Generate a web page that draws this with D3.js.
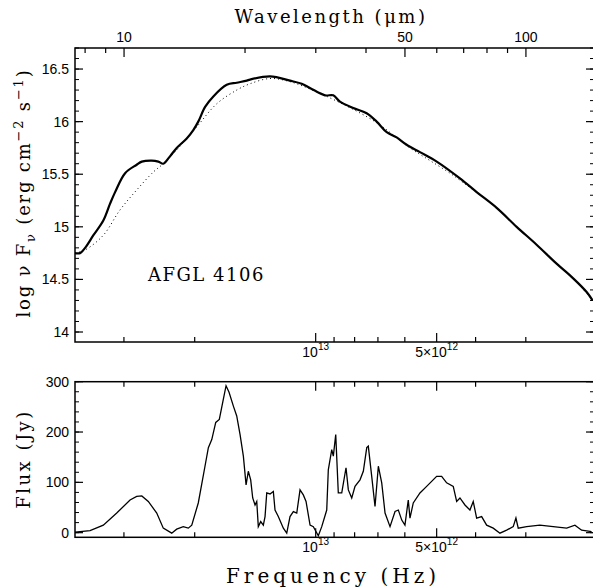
<!DOCTYPE html>
<html>
<head>
<meta charset="utf-8">
<script src="https://cdn.jsdelivr.net/npm/d3@7"></script>
<style>
  body { margin: 0; background: #fff; }
  svg { display: block; }
  .ttl { font-family: "DejaVu Serif", serif; fill: #000; }
</style>
</head>
<body>
<div id="chart"></div>
<script>
// top panel: log nu F_nu against wavelength (micron)
let waveSolid = [7.55, 7.77, 8.00, 8.39, 8.88, 9.23, 9.50, 10.06, 10.75, 11.07, 11.72, 12.17, 12.52, 13.01, 13.52,
    14.32, 14.87, 15.30, 15.91, 16.68, 18.01, 19.07, 20.20, 20.58, 23.08, 25.88, 27.67, 29.01, 31.62, 33.16,
    34.45, 37.19, 40.15, 42.52, 45.03, 47.68, 50.49, 54.49, 59.98, 68.53, 75.41, 84.57, 94.82, 106.3, 119.2,
    131.1, 141.6, 146.5];
let logSolid = [14.75, 14.75, 14.80, 14.92, 15.06, 15.22, 15.33, 15.51, 15.59, 15.62, 15.63, 15.62, 15.60, 15.67, 15.75,
    15.84, 15.92, 16.00, 16.14, 16.24, 16.35, 16.37, 16.39, 16.40, 16.43, 16.39, 16.36, 16.32, 16.25, 16.25,
    16.19, 16.13, 16.08, 16.00, 15.90, 15.85, 15.78, 15.71, 15.62, 15.46, 15.33, 15.18, 15.00, 14.83, 14.65,
    14.51, 14.38, 14.30];

// dotted fit
let waveFit = [7.55, 8.00, 8.88, 9.77, 10.75, 11.82, 12.52, 13.52, 15.16, 17.01, 19.07, 20.58, 23.08, 25.88,
    29.01, 34.45, 42.52, 51.45, 57.70, 64.71, 73.94, 84.57, 94.82, 106.3, 119.2, 131.1, 146.5];
let logFit = [14.75, 14.78, 14.92, 15.16, 15.35, 15.52, 15.60, 15.73, 15.95, 16.17, 16.30, 16.36, 16.41, 16.38,
    16.31, 16.18, 15.99, 15.75, 15.63, 15.51, 15.35, 15.18, 15.00, 14.83, 14.65, 14.51, 14.30];

// bottom panel: residual flux (Jy)
let waveSpec = [7.55, 8.23, 8.88, 9.59, 10.35, 10.75, 11.07, 11.49, 12.06, 12.52, 13.14, 13.52, 14.04, 14.45, 14.74,
    15.30, 15.90, 16.21, 16.53, 16.91, 17.26, 17.66, 17.94, 18.25, 18.70, 19.07, 19.44, 19.81, 20.12, 20.38,
    20.66, 20.90, 21.18, 21.39, 21.58, 21.88, 22.21, 22.43, 22.65, 23.08, 23.52, 23.75, 24.20, 24.91, 25.40,
    25.88, 26.38, 26.90, 27.41, 27.93, 28.37, 29.03, 29.58, 30.44, 31.04, 31.94, 32.23, 32.87, 33.17, 33.63,
    34.13, 34.81, 35.67, 36.15, 36.86, 37.56, 38.65, 39.39, 40.17, 40.53, 41.33, 42.12, 42.93, 43.77, 44.61,
    45.90, 47.24, 48.14, 49.09, 50.00, 50.96, 51.46, 52.44, 54.49, 56.62, 58.26, 59.96, 61.70, 63.49, 65.94,
    67.24, 68.52, 70.51, 72.56, 73.94, 75.40, 77.59, 79.84, 82.92, 86.17, 89.54, 92.98, 94.43, 95.69, 100.4,
    108.3, 116.9, 126.3, 132.4, 137.6, 145.7];
let jySpec = [1, 4, 15, 39, 65, 72, 73, 62, 39, 9, -1, 7, 12, 9, 15,
    59, 132, 169, 185, 219, 225, 265, 292, 279, 252, 232, 195, 152, 95, 122,
    105, 69, 55, 62, 12, 22, 15, 32, 79, 77, 82, 45, 32, 9, -1,
    32, 42, 39, 85, 75, 62, 15, 12, -6, 12, 45, 125, 165, 152, 195,
    79, 79, 129, 85, 69, 92, 105, 122, 169, 172, 112, 52, 132, 99, 39,
    12, 42, 45, 25, 15, 65, 29, 59, 79, 92, 102, 112, 112, 99, 92,
    62, 69, 55, 45, 62, 29, 32, 15, 9, -1, 5, 12, 29, 9, 12,
    15, 12, 9, 15, 5, 2];

let waveMajor = [10, 50, 100];
let waveMinor = [8, 9, 20, 30, 40, 60, 70, 80, 90];
let freqMajor = [1e13, 5e12];
let freqMinor = [3e13, 2e13, 9e12, 8e12, 7e12, 6e12, 4e12, 3e12];
let freqLabels = [["10", "13"], ["5\u00d710", "12"]];
let topMajor = [14, 14.5, 15, 15.5, 16, 16.5];
let topLabels = ["14", "14.5", "15", "15.5", "16", "16.5"];
let botMajor = [0, 100, 200, 300];

const C = 2.998e14; // micron / s

let W = 593, H = 587;
let left = 75, right = 594;
let top1 = 48, bot1 = 342, top2 = 381.7, bot2 = 537.3;
let tickFont = "'Liberation Sans', Arial, sans-serif";

let svg = d3.select("#chart").append("svg").attr("width", W).attr("height", H);

let x = d3.scaleLog().domain([7.55, 147.7]).range([left, right]);
let y1 = d3.scaleLinear().domain([13.905, 16.70]).range([bot1, top1]);
let y2 = d3.scaleLinear().domain([-9.2, 300]).range([bot2, top2]);

function fx(f) { return x(C / f); }

function hticks(g, vals, yPos, dir, len) {
    g.selectAll(null).data(vals).enter().append("line")
        .attr("x1", d => d).attr("x2", d => d)
        .attr("y1", yPos).attr("y2", yPos + dir * len)
        .attr("stroke", "#000").attr("stroke-width", 1.2);
}

function panel(yScale, yTop, yBot, major, minor, labels) {
    let g = svg.append("g");
    g.append("rect").attr("x", left).attr("y", yTop).attr("width", right - left).attr("height", yBot - yTop)
        .attr("fill", "none").attr("stroke", "#000").attr("stroke-width", 1.5);

    // y ticks left and right
    [[left, 1], [right, -1]].forEach(([xp, dir]) => {
        g.selectAll(null).data(major).enter().append("line")
            .attr("x1", xp).attr("x2", xp + dir * 8)
            .attr("y1", d => yScale(d)).attr("y2", d => yScale(d))
            .attr("stroke", "#000").attr("stroke-width", 1.2);
        g.selectAll(null).data(minor).enter().append("line")
            .attr("x1", xp).attr("x2", xp + dir * 4)
            .attr("y1", d => yScale(d)).attr("y2", d => yScale(d))
            .attr("stroke", "#000").attr("stroke-width", 1);
    });
    g.selectAll(null).data(major).enter().append("text")
        .attr("x", left - 6).attr("y", d => yScale(d) + 5)
        .attr("text-anchor", "end")
        .style("font-family", tickFont).style("font-size", "14px")
        .text((d, i) => labels[i]);

    // frequency ticks on the bottom
    hticks(g, freqMajor.map(fx), yBot, -1, 9);
    hticks(g, freqMinor.map(fx), yBot, -1, 5);
    return g;
}

// top panel
let g1 = panel(y1, top1, bot1, topMajor, d3.range(140, 168).map(d => d / 10), topLabels);
hticks(g1, waveMajor.map(x), top1, 1, 9);
hticks(g1, waveMinor.map(x), top1, 1, 5);
g1.selectAll(null).data(waveMajor).enter().append("text")
    .attr("x", d => x(d)).attr("y", top1 - 6)
    .attr("text-anchor", "middle")
    .style("font-family", tickFont).style("font-size", "14px")
    .text(d => d);

// bottom panel
let g2 = panel(y2, top2, bot2, botMajor, d3.range(0, 301, 20), botMajor.map(String));
hticks(g2, freqMajor.map(fx), top2, 1, 9);
hticks(g2, freqMinor.map(fx), top2, 1, 5);

// frequency labels below both panels
[[g1, bot1], [g2, bot2]].forEach(([g, yb]) => {
    freqMajor.forEach((f, i) => {
        let t = g.append("text")
            .attr("x", fx(f)).attr("y", yb + 15)
            .attr("text-anchor", "middle")
            .style("font-family", tickFont).style("font-size", "14px");
        t.append("tspan").text(freqLabels[i][0]);
        t.append("tspan").attr("dy", -7).style("font-size", "10px").text(freqLabels[i][1]);
    });
});

// curves
let line1 = d3.line().x(d => x(d[0])).y(d => y1(d[1])).curve(d3.curveCatmullRom);
svg.append("path").datum(d3.zip(waveFit, logFit))
    .attr("d", line1).attr("fill", "none")
    .attr("stroke", "#000").attr("stroke-width", 1).attr("stroke-dasharray", "1,3");
svg.append("path").datum(d3.zip(waveSolid, logSolid))
    .attr("d", line1).attr("fill", "none")
    .attr("stroke", "#000").attr("stroke-width", 2.2);

let line2 = d3.line().x(d => x(d[0])).y(d => y2(d[1]));
svg.append("path").datum(d3.zip(waveSpec, jySpec))
    .attr("d", line2).attr("fill", "none")
    .attr("stroke", "#000").attr("stroke-width", 1.3);

// titles
svg.append("text").attr("class", "ttl")
    .attr("x", 331).attr("y", 23).attr("text-anchor", "middle")
    .style("font-size", "18px").style("letter-spacing", "2.5px")
    .text("Wavelength (\u03bcm)");
svg.append("text").attr("class", "ttl")
    .attr("x", 333).attr("y", 583).attr("text-anchor", "middle")
    .style("font-size", "20px").style("letter-spacing", "4px")
    .text("Frequency (Hz)");
svg.append("text").attr("class", "ttl")
    .attr("x", 148).attr("y", 281)
    .style("font-size", "18px").style("letter-spacing", "1.5px")
    .text("AFGL 4106");

let yl = svg.append("text").attr("class", "ttl")
    .attr("transform", "translate(30,193) rotate(-90)")
    .attr("text-anchor", "middle")
    .style("font-size", "18px").style("letter-spacing", "1.8px");
yl.append("tspan").text("log \u03bd F");
yl.append("tspan").attr("dy", 5).style("font-size", "13px").text("\u03bd");
yl.append("tspan").attr("dy", -5).text(" (erg cm");
yl.append("tspan").attr("dy", -7).style("font-size", "13px").text("\u22122");
yl.append("tspan").attr("dy", 7).text(" s");
yl.append("tspan").attr("dy", -7).style("font-size", "13px").text("\u22121");
yl.append("tspan").attr("dy", 7).text(")");

svg.append("text").attr("class", "ttl")
    .attr("transform", "translate(30,459) rotate(-90)")
    .attr("text-anchor", "middle")
    .style("font-size", "18px").style("letter-spacing", "2.5px")
    .text("Flux (Jy)");
</script>
</body>
</html>
